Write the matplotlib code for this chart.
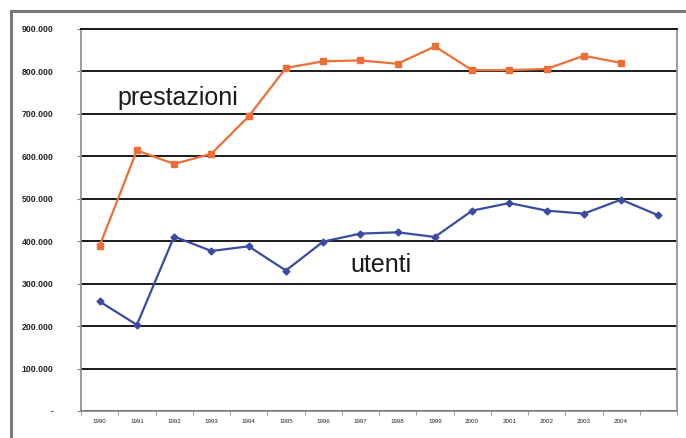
import matplotlib.pyplot as plt
from matplotlib.patches import Rectangle
from matplotlib.ticker import FuncFormatter

# anni (l'ultima categoria resta senza etichetta)
anni = ["1990", "1991", "1992", "1993", "1994", "1995", "1996", "1997",
        "1998", "1999", "2000", "2001", "2002", "2003", "2004", ""]

prestazioni = [389000, 614000, 582000, 606000, 694000, 808000, 824000, 826000,
               818000, 859000, 803000, 803000, 806000, 837000, 820000]
utenti = [258000, 203000, 411000, 377000, 388000, 331000, 399000, 418000,
          421000, 410000, 472000, 490000, 472000, 465000, 498000, 461000]

plt.rcParams['font.family'] = ['Liberation Sans', 'DejaVu Sans']

fig = plt.figure(figsize=(6.86, 4.38), dpi=100)
ax = fig.add_axes([81 / 686, 1 - 411 / 438, 596 / 686, 382 / 438])

# cornice esterna grigia
fig.patches.append(Rectangle((11 / 686, -0.05), 1.0, 1 - 11 / 438 + 0.05,
                             transform=fig.transFigure, fill=False,
                             edgecolor="#7a7a7a", linewidth=2.2))

x_p = list(range(len(prestazioni)))
x_u = list(range(len(utenti)))

ax.plot(x_p, prestazioni, color="#ec6f35", linewidth=1.6, marker="s",
        markersize=5, zorder=3)
ax.plot(x_u, utenti, color="#3b4ba3", linewidth=1.6, marker="D",
        markersize=3.5, zorder=3)

ax.set_ylim(0, 900000)
ax.set_xlim(-0.5, len(anni) - 0.5)
ax.set_yticks(range(0, 900001, 100000))
ax.yaxis.set_major_formatter(FuncFormatter(
    lambda v, p: "-" if v == 0 else f"{int(v):,}".replace(",", ".")))
ax.yaxis.grid(True, color="#1a1a1a", linewidth=1.4)
ax.set_axisbelow(True)

ax.set_xticks(range(len(anni)))
ax.set_xticklabels(anni)
ax.set_xticks([i + 0.5 for i in range(-1, len(anni))], minor=True)
ax.tick_params(axis="x", which="major", length=0, labelsize=4.5, pad=6,
               labelcolor="#222222")
ax.tick_params(axis="x", which="minor", length=3, color="#888888")
ax.tick_params(axis="y", length=3, color="#888888", labelsize=6.3, pad=17,
               labelcolor="#222222")
for lab in ax.get_yticklabels():
    lab.set_fontweight("bold")

for s in ["left", "bottom", "right"]:
    ax.spines[s].set_color("#8a8a8a")
    ax.spines[s].set_linewidth(1.2)
ax.spines["top"].set_color("#1a1a1a")
ax.spines["top"].set_linewidth(1.4)

ax.text(0.49, 721000, "prestazioni", fontsize=18, color="#1a1a1a",
        va="baseline")
ax.text(6.72, 327000, "utenti", fontsize=18, color="#1a1a1a",
        va="baseline")

fig.savefig("out.png", dpi=100)
